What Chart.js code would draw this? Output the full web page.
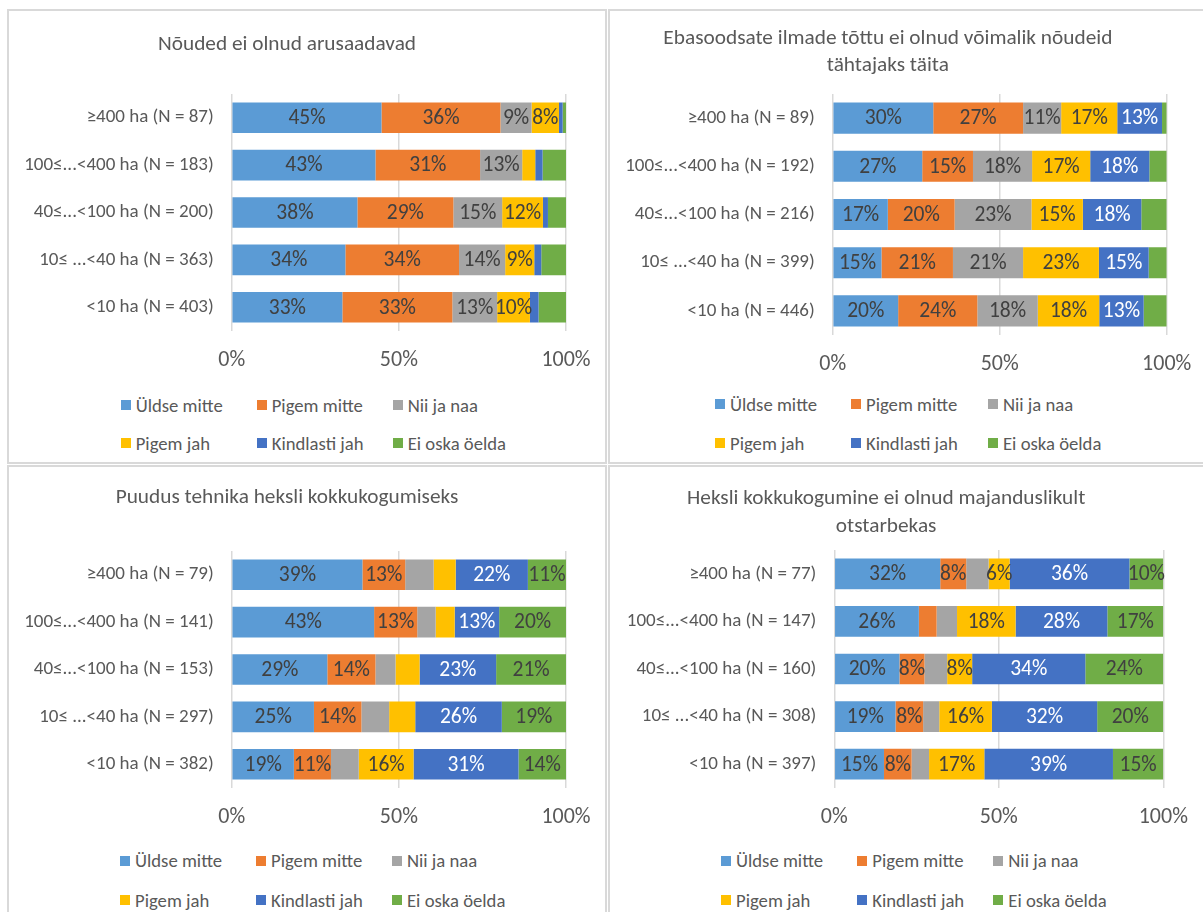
<!DOCTYPE html>
<html>
<head>
<meta charset="utf-8">
<script src="https://cdn.jsdelivr.net/npm/chart.js@4.4.1/dist/chart.umd.min.js"></script>
<style>
  body { margin: 0; background: #fff; width: 1203px; height: 912px; overflow: hidden; position: relative; font-family: Carlito, Lato, sans-serif; }
  .panel { position: absolute; border: 2px solid #d9d9d9; box-sizing: border-box; }
  canvas { position: absolute; }
  .item { position: absolute; height: 20px; display: flex; align-items: center; color: #595959; font-size: 18.7px; white-space: nowrap; }
  .item span { display: inline-block; width: 10px; height: 10px; margin-right: 5px; }
</style>
</head>
<body>
<script>
// vastusevariandid
var seriesNames = ['Üldse mitte', 'Pigem mitte', 'Nii ja naa', 'Pigem jah', 'Kindlasti jah', 'Ei oska öelda'];
var seriesColors = ['#5B9BD5', '#ED7D31', '#A5A5A5', '#FFC000', '#4472C4', '#70AD47'];
var xTicks = [0, 50, 100];

// 1. Nõuded ei olnud arusaadavad
var title1 = ['Nõuded ei olnud arusaadavad'];
var categories1 = ['≥400 ha (N = 87)', '100≤...<400 ha (N = 183)', '40≤...<100 ha (N = 200)', '10≤ ...<40 ha (N = 363)', '<10 ha (N = 403)'];
var uldse1 = [44.8, 43.0, 37.6, 34.0, 33.1];
var pigemMitte1 = [35.6, 31.3, 28.7, 34.0, 32.9];
var nii1 = [9.3, 12.6, 14.6, 13.8, 13.4];
var pigemJah1 = [8.2, 3.9, 12.2, 8.7, 9.8];
var kindlasti1 = [1.1, 2.2, 1.5, 2.1, 2.6];
var eiOska1 = [1.0, 7.0, 5.4, 7.4, 8.2];
var hidden1 = [[], [], [], [1], [0, 1, 2, 3, 4], [0, 1, 2, 3, 4]];

// 2. Ebasoodsad ilmad
var title2 = ['Ebasoodsate ilmade tõttu ei olnud võimalik nõudeid', 'tähtajaks täita'];
var categories2 = ['≥400 ha (N = 89)', '100≤...<400 ha (N = 192)', '40≤...<100 ha (N = 216)', '10≤ ...<40 ha (N = 399)', '<10 ha (N = 446)'];
var uldse2 = [30.1, 26.8, 16.5, 14.6, 19.6];
var pigemMitte2 = [26.9, 15.2, 20.0, 21.4, 23.7];
var nii2 = [11.4, 17.7, 23.0, 21.0, 18.1];
var pigemJah2 = [16.8, 17.4, 15.4, 22.7, 18.4];
var kindlasti2 = [13.4, 17.7, 17.5, 14.9, 13.3];
var eiOska2 = [1.4, 5.2, 7.6, 5.4, 6.9];
var hidden2 = [[], [], [], [], [], [0, 1, 2, 3, 4]];

// 3. Puudus tehnika
var title3 = ['Puudus tehnika heksli kokkukogumiseks'];
var categories3 = ['≥400 ha (N = 79)', '100≤...<400 ha (N = 141)', '40≤...<100 ha (N = 153)', '10≤ ...<40 ha (N = 297)', '<10 ha (N = 382)'];
var uldse3 = [39.1, 42.6, 28.6, 24.6, 18.6];
var pigemMitte3 = [12.8, 12.9, 14.4, 14.2, 11.1];
var nii3 = [8.5, 5.5, 6.0, 8.3, 8.3];
var pigemJah3 = [6.6, 5.7, 7.2, 7.8, 16.4];
var kindlasti3 = [21.6, 13.3, 22.9, 25.9, 31.4];
var eiOska3 = [11.4, 20.0, 20.9, 19.2, 14.2];
var hidden3 = [[], [], [0, 1, 2, 3, 4], [0, 1, 2, 3], [], []];

// 4. Majanduslikult otstarbekas
var title4 = ['Heksli kokkukogumine ei olnud majanduslikult', 'otstarbekas'];
var categories4 = ['≥400 ha (N = 77)', '100≤...<400 ha (N = 147)', '40≤...<100 ha (N = 160)', '10≤ ...<40 ha (N = 308)', '<10 ha (N = 397)'];
var uldse4 = [32.2, 25.7, 19.8, 18.6, 15.1];
var pigemMitte4 = [7.9, 5.4, 7.6, 8.4, 8.4];
var nii4 = [6.8, 6.2, 6.9, 4.9, 5.3];
var pigemJah4 = [6.4, 17.8, 7.6, 16.0, 16.8];
var kindlasti4 = [36.4, 27.9, 34.4, 32.0, 39.1];
var eiOska4 = [10.3, 17.0, 23.7, 20.1, 15.3];
var hidden4 = [[], [1], [0, 1, 2, 3, 4], [], [], []];

var FONT = 'Carlito, Lato, sans-serif';
var TITLE_SIZE = 21.3;

// paneelide asukohad
var panels = [
    { title: title1, cats: categories1, series: [uldse1, pigemMitte1, nii1, pigemJah1, kindlasti1, eiOska1], hidden: hidden1,
      left: 8, top: 10, width: 598, yWidth: 223.7, padRight: 40, lineH: 24, tTop: 23, tBottom: 37, bottom: 321,
      legX: [120.7, 256.7, 392.7], legY: [405, 443] },
    { title: title2, cats: categories2, series: [uldse2, pigemMitte2, nii2, pigemJah2, kindlasti2, eiOska2], hidden: hidden2,
      left: 609, top: 10, width: 594, yWidth: 223.7, padRight: 36.3, lineH: 27, tTop: 15, tBottom: 15, bottom: 325,
      legX: [715, 851, 988], legY: [404, 443] },
    { title: title3, cats: categories3, series: [uldse3, pigemMitte3, nii3, pigemJah3, kindlasti3, eiOska3], hidden: hidden3,
      left: 8, top: 466, width: 598, yWidth: 223.7, padRight: 40, lineH: 24, tTop: 20, tBottom: 41, bottom: 322,
      legX: [120, 256, 392], legY: [860.7, 900] },
    { title: title4, cats: categories4, series: [uldse4, pigemMitte4, nii4, pigemJah4, kindlasti4, eiOska4], hidden: hidden4,
      left: 609, top: 466, width: 594, yWidth: 225.3, padRight: 39.7, lineH: 28, tTop: 19, tBottom: 9, bottom: 322,
      legX: [721, 857.3, 993.3], legY: [860.7, 900] }
];

function makeLabelPlugin(hidden) {
    return {
        id: 'barLabels',
        afterDatasetsDraw: function (chart) {
            var ctx = chart.ctx;
            ctx.save();
            ctx.font = '21.5px ' + FONT;
            ctx.textAlign = 'center';
            ctx.textBaseline = 'middle';
            chart.data.datasets.forEach(function (ds, i) {
                var meta = chart.getDatasetMeta(i);
                meta.data.forEach(function (bar, j) {
                    if (hidden[i].indexOf(j) >= 0) return;
                    ctx.fillStyle = i === 4 ? '#ffffff' : '#404040';
                    ctx.fillText(Math.round(ds.data[j]) + '%', (bar.x + bar.base) / 2, bar.y + 1);
                });
            });
            ctx.restore();
        }
    };
}

function drawPanel(p) {
    var frame = document.createElement('div');
    frame.className = 'panel';
    frame.style.left = (p.left - 1) + 'px';
    frame.style.top = (p.top - 1) + 'px';
    frame.style.width = (p.left > 100 ? 620 : p.width + 2) + 'px';
    frame.style.height = (p.top > 100 ? 470 : 455) + 'px';
    document.body.appendChild(frame);

    var xAxisH = 48;
    var canvas = document.createElement('canvas');
    canvas.width = p.width;
    canvas.height = p.bottom + xAxisH;
    canvas.style.left = p.left + 'px';
    canvas.style.top = p.top + 'px';
    canvas.style.width = p.width + 'px';
    canvas.style.height = (p.bottom + xAxisH) + 'px';
    document.body.appendChild(canvas);

    var datasets = p.series.map(function (values, i) {
        return {
            label: seriesNames[i],
            data: values,
            backgroundColor: seriesColors[i],
            borderWidth: 0,
            barPercentage: 0.645,
            categoryPercentage: 1
        };
    });

    new Chart(canvas.getContext('2d'), {
        type: 'bar',
        data: { labels: p.cats, datasets: datasets },
        options: {
            indexAxis: 'y',
            responsive: false,
            animation: false,
            layout: { padding: { left: 0, right: p.padRight, top: 0, bottom: 0 } },
            plugins: {
                legend: { display: false },
                tooltip: { enabled: false },
                title: {
                    display: true,
                    text: p.title,
                    color: '#595959',
                    font: { family: FONT, size: TITLE_SIZE, weight: 'normal', lineHeight: p.lineH / TITLE_SIZE },
                    padding: { top: p.tTop, bottom: p.tBottom }
                }
            },
            scales: {
                x: {
                    stacked: true,
                    min: 0,
                    max: 100,
                    afterBuildTicks: function (s) { s.ticks = xTicks.map(function (v) { return { value: v }; }); },
                    afterFit: function (s) {
                        s.height = xAxisH;
                        s.paddingLeft = 0;
                        s.paddingRight = 0;
                    },
                    ticks: { color: '#595959', padding: 16, font: { family: FONT, size: 22 }, callback: function (v) { return v + '%'; } },
                    grid: { color: '#d9d9d9', lineWidth: 1.5, drawTicks: false, tickLength: 0 },
                    border: { display: false }
                },
                y: {
                    stacked: true,
                    afterFit: function (s) { s.width = p.yWidth; },
                    ticks: { color: '#595959', padding: 18, font: { family: FONT, size: 19 } },
                    grid: { display: false, drawTicks: false, tickLength: 0 },
                    border: { display: false }
                }
            }
        },
        plugins: [makeLabelPlugin(p.hidden)]
    });

    // legend kahes reas, kolm veergu
    seriesNames.forEach(function (name, i) {
        var item = document.createElement('div');
        item.className = 'item';
        item.style.left = p.legX[i % 3] + 'px';
        item.style.top = (p.legY[Math.floor(i / 3)] - 10) + 'px';
        var box = document.createElement('span');
        box.style.background = seriesColors[i];
        item.appendChild(box);
        item.appendChild(document.createTextNode(name));
        document.body.appendChild(item);
    });
}

panels.forEach(drawPanel);
</script>
</body>
</html>
